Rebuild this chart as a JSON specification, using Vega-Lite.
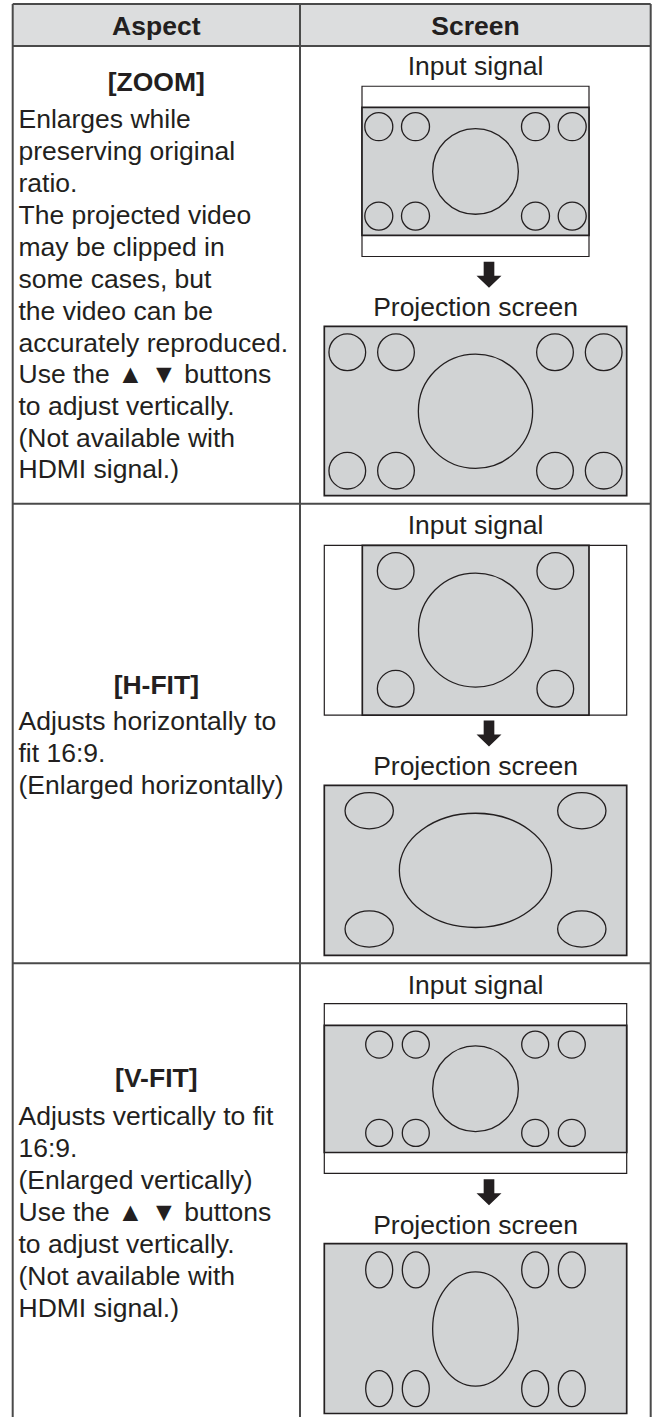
{
  "$schema": "https://vega.github.io/schema/vega-lite/v6.json",
  "width": 657,
  "height": 1418,
  "autosize": {"type": "fit", "contains": "padding"},
  "padding": 0,
  "background": "white",
  "config": {"view": {"stroke": null}},
  "datasets": {
    "lines": [
      {"x": 12.7, "y": 4, "x2": 650.7, "y2": 4},
      {"x": 12.7, "y": 46, "x2": 650.7, "y2": 46},
      {"x": 12.7, "y": 504, "x2": 650.7, "y2": 504},
      {"x": 12.7, "y": 964, "x2": 650.7, "y2": 964},
      {"x": 12.7, "y": 4, "x2": 12.7, "y2": 1418},
      {"x": 300, "y": 4, "x2": 300, "y2": 1418},
      {"x": 650.7, "y": 4, "x2": 650.7, "y2": 1418}
    ],
    "boxes": [
      {"kind": "header", "x": 12.7, "x2": 650.7, "y": 4, "y2": 46},
      {"kind": "frame", "x": 362, "x2": 589, "y": 86.3, "y2": 256.7},
      {"kind": "content", "x": 362, "x2": 589, "y": 107.5, "y2": 235.5},
      {"kind": "content", "x": 324.3, "x2": 626.7, "y": 326.7, "y2": 496},
      {"kind": "frame", "x": 324.3, "x2": 626.7, "y": 545.7, "y2": 715.7},
      {"kind": "content", "x": 362.3, "x2": 589, "y": 545.7, "y2": 715.7},
      {"kind": "content", "x": 324.3, "x2": 626.7, "y": 786, "y2": 956},
      {"kind": "frame", "x": 324.3, "x2": 626.7, "y": 1004.3, "y2": 1174.3},
      {"kind": "content", "x": 324.3, "x2": 626.7, "y": 1026, "y2": 1153.3},
      {"kind": "content", "x": 324.3, "x2": 626.7, "y": 1244.5, "y2": 1414.5}
    ],
    "shapes": [
      {"form": "circle", "d": 28, "x": 378.8, "y": 126.8},
      {"form": "circle", "d": 28, "x": 415.5, "y": 126.8},
      {"form": "circle", "d": 28, "x": 535.5, "y": 126.8},
      {"form": "circle", "d": 28, "x": 572.2, "y": 126.8},
      {"form": "circle", "d": 28, "x": 378.8, "y": 216.2},
      {"form": "circle", "d": 28, "x": 415.5, "y": 216.2},
      {"form": "circle", "d": 28, "x": 535.5, "y": 216.2},
      {"form": "circle", "d": 28, "x": 572.2, "y": 216.2},
      {"form": "circle", "d": 85.7, "x": 475.5, "y": 171.5},
      {"form": "circle", "d": 36.7, "x": 347.3, "y": 352.5},
      {"form": "circle", "d": 36.7, "x": 396, "y": 352.5},
      {"form": "circle", "d": 36.7, "x": 555, "y": 352.5},
      {"form": "circle", "d": 36.7, "x": 603.7, "y": 352.5},
      {"form": "circle", "d": 36.7, "x": 347.3, "y": 471},
      {"form": "circle", "d": 36.7, "x": 396, "y": 471},
      {"form": "circle", "d": 36.7, "x": 555, "y": 471},
      {"form": "circle", "d": 36.7, "x": 603.7, "y": 471},
      {"form": "circle", "d": 114.3, "x": 475.5, "y": 411.5},
      {"form": "circle", "d": 36.7, "x": 395.7, "y": 571.3},
      {"form": "circle", "d": 36.7, "x": 555.3, "y": 571.3},
      {"form": "circle", "d": 36.7, "x": 395.7, "y": 689.3},
      {"form": "circle", "d": 36.7, "x": 555.3, "y": 689.3},
      {"form": "circle", "d": 114, "x": 475.5, "y": 630.5},
      {"form": "wide", "d": 48.3, "x": 369.2, "y": 811.3},
      {"form": "wide", "d": 48.3, "x": 581.8, "y": 811.3},
      {"form": "wide", "d": 48.3, "x": 369.2, "y": 929.7},
      {"form": "wide", "d": 48.3, "x": 581.8, "y": 929.7},
      {"form": "wide", "d": 152.3, "x": 475.5, "y": 871},
      {"form": "circle", "d": 27, "x": 379.2, "y": 1045.3},
      {"form": "circle", "d": 27, "x": 415.8, "y": 1045.3},
      {"form": "circle", "d": 27, "x": 535.2, "y": 1045.3},
      {"form": "circle", "d": 27, "x": 571.8, "y": 1045.3},
      {"form": "circle", "d": 27, "x": 379.2, "y": 1133.7},
      {"form": "circle", "d": 27, "x": 415.8, "y": 1133.7},
      {"form": "circle", "d": 27, "x": 535.2, "y": 1133.7},
      {"form": "circle", "d": 27, "x": 571.8, "y": 1133.7},
      {"form": "circle", "d": 85.7, "x": 475.5, "y": 1089.5},
      {"form": "tall", "d": 27, "x": 379.2, "y": 1270.7},
      {"form": "tall", "d": 27, "x": 415.8, "y": 1270.7},
      {"form": "tall", "d": 27, "x": 535.2, "y": 1270.7},
      {"form": "tall", "d": 27, "x": 571.8, "y": 1270.7},
      {"form": "tall", "d": 27, "x": 379.2, "y": 1389.7},
      {"form": "tall", "d": 27, "x": 415.8, "y": 1389.7},
      {"form": "tall", "d": 27, "x": 535.2, "y": 1389.7},
      {"form": "tall", "d": 27, "x": 571.8, "y": 1389.7},
      {"form": "tall", "d": 85.7, "x": 475.5, "y": 1330}
    ],
    "arrows": [
      {"x": 489, "y": 275},
      {"x": 489, "y": 734},
      {"x": 489, "y": 1193}
    ],
    "labels": [
      {"kind": "head", "t": "Aspect", "x": 156.3, "y": 35},
      {"kind": "head", "t": "Screen", "x": 475.5, "y": 35},
      {"kind": "title", "t": "[ZOOM]", "x": 156.3, "y": 91},
      {"kind": "title", "t": "[H-FIT]", "x": 156.3, "y": 694},
      {"kind": "title", "t": "[V-FIT]", "x": 156.3, "y": 1088},
      {"kind": "caption", "t": "Input signal", "x": 475.5, "y": 75},
      {"kind": "caption", "t": "Projection screen", "x": 475.5, "y": 316.7},
      {"kind": "caption", "t": "Input signal", "x": 475.5, "y": 534},
      {"kind": "caption", "t": "Projection screen", "x": 475.5, "y": 775.5},
      {"kind": "caption", "t": "Input signal", "x": 475.5, "y": 995},
      {"kind": "caption", "t": "Projection screen", "x": 475.5, "y": 1235},
      {"kind": "body", "t": "Enlarges while", "x": 18.5, "y": 128},
      {"kind": "body", "t": "preserving original", "x": 18.5, "y": 160},
      {"kind": "body", "t": "ratio.", "x": 18.5, "y": 192},
      {"kind": "body", "t": "The projected video", "x": 18.5, "y": 224},
      {"kind": "body", "t": "may be clipped in", "x": 18.5, "y": 256},
      {"kind": "body", "t": "some cases, but", "x": 18.5, "y": 288},
      {"kind": "body", "t": "the video can be", "x": 18.5, "y": 320},
      {"kind": "body", "t": "accurately reproduced.", "x": 18.5, "y": 352},
      {"kind": "body", "t": "Use the ▲ ▼ buttons", "x": 18.5, "y": 383.5},
      {"kind": "body", "t": "to adjust vertically.", "x": 18.5, "y": 415},
      {"kind": "body", "t": "(Not available with", "x": 18.5, "y": 447},
      {"kind": "body", "t": "HDMI signal.)", "x": 18.5, "y": 478.5},
      {"kind": "body", "t": "Adjusts horizontally to", "x": 18.5, "y": 731},
      {"kind": "body", "t": "fit 16:9.", "x": 18.5, "y": 763},
      {"kind": "body", "t": "(Enlarged horizontally)", "x": 18.5, "y": 795},
      {"kind": "body", "t": "Adjusts vertically to fit", "x": 18.5, "y": 1125.7},
      {"kind": "body", "t": "16:9.", "x": 18.5, "y": 1158},
      {"kind": "body", "t": "(Enlarged vertically)", "x": 18.5, "y": 1190},
      {"kind": "body", "t": "Use the ▲ ▼ buttons", "x": 18.5, "y": 1222},
      {"kind": "body", "t": "to adjust vertically.", "x": 18.5, "y": 1254},
      {"kind": "body", "t": "(Not available with", "x": 18.5, "y": 1286},
      {"kind": "body", "t": "HDMI signal.)", "x": 18.5, "y": 1318}
    ]
  },
  "layer": [
    {
      "data": {"name": "boxes"},
      "transform": [{"filter": "datum.kind === 'header'"}],
      "mark": {"type": "rect", "fill": "#dcddde", "strokeWidth": 0},
      "encoding": {
        "x": {"field": "x", "type": "quantitative", "scale": {"domain": [0, 657], "nice": false, "zero": false}, "axis": null},
        "x2": {"field": "x2"},
        "y": {"field": "y", "type": "quantitative", "scale": {"domain": [0, 1418], "nice": false, "zero": false, "reverse": true}, "axis": null},
        "y2": {"field": "y2"}
      }
    },
    {
      "data": {"name": "boxes"},
      "transform": [{"filter": "datum.kind === 'frame'"}],
      "mark": {"type": "rect", "fill": "#ffffff", "stroke": "#231f20", "strokeWidth": 1.2},
      "encoding": {
        "x": {"field": "x", "type": "quantitative"},
        "x2": {"field": "x2"},
        "y": {"field": "y", "type": "quantitative"},
        "y2": {"field": "y2"}
      }
    },
    {
      "data": {"name": "boxes"},
      "transform": [{"filter": "datum.kind === 'content'"}],
      "mark": {"type": "rect", "fill": "#d1d3d4", "stroke": "#231f20", "strokeWidth": 1.7},
      "encoding": {
        "x": {"field": "x", "type": "quantitative"},
        "x2": {"field": "x2"},
        "y": {"field": "y", "type": "quantitative"},
        "y2": {"field": "y2"}
      }
    },
    {
      "data": {"name": "lines"},
      "mark": {"type": "rule", "color": "#4a4a4a", "strokeWidth": 2},
      "encoding": {
        "x": {"field": "x", "type": "quantitative"},
        "x2": {"field": "x2"},
        "y": {"field": "y", "type": "quantitative"},
        "y2": {"field": "y2"}
      }
    },
    {
      "data": {"name": "shapes"},
      "mark": {"type": "point", "filled": false, "stroke": "#231f20", "strokeWidth": 1.3, "opacity": 1},
      "encoding": {
        "x": {"field": "x", "type": "quantitative"},
        "y": {"field": "y", "type": "quantitative"},
        "shape": {
          "field": "form",
          "type": "nominal",
          "legend": null,
          "scale": {
            "domain": ["circle", "wide", "tall"],
            "range": [
              "M1,0C1,0.5523,0.5523,1,0,1C-0.5523,1,-1,0.5523,-1,0C-1,-0.5523,-0.5523,-1,0,-1C0.5523,-1,1,-0.5523,1,0Z",
              "M1,0C1,0.4142,0.5523,0.75,0,0.75C-0.5523,0.75,-1,0.4142,-1,0C-1,-0.4142,-0.5523,-0.75,0,-0.75C0.5523,-0.75,1,-0.4142,1,0Z",
              "M1,0C1,0.7364,0.5523,1.3333,0,1.3333C-0.5523,1.3333,-1,0.7364,-1,0C-1,-0.7364,-0.5523,-1.3333,0,-1.3333C0.5523,-1.3333,1,-0.7364,1,0Z"
            ]
          }
        },
        "size": {
          "field": "d",
          "type": "quantitative",
          "legend": null,
          "scale": {"type": "pow", "exponent": 2, "domain": [0, 200], "range": [0, 40000], "zero": true, "nice": false}
        }
      }
    },
    {
      "data": {"name": "arrows"},
      "mark": {"type": "point", "filled": true, "color": "#231f20", "opacity": 1, "size": 676, "strokeWidth": 0,
        "shape": "M-0.41,-1L0.41,-1L0.41,0.08L0.96,0.08L0,1L-0.96,0.08L-0.41,0.08Z"},
      "encoding": {
        "x": {"field": "x", "type": "quantitative"},
        "y": {"field": "y", "type": "quantitative"}
      }
    },
    {
      "data": {"name": "labels"},
      "transform": [{"filter": "datum.kind === 'head' || datum.kind === 'title'"}],
      "mark": {"type": "text", "font": "Liberation Sans", "fontSize": 26.5, "fontWeight": "bold", "align": "center", "baseline": "alphabetic", "color": "#231f20"},
      "encoding": {
        "x": {"field": "x", "type": "quantitative"},
        "y": {"field": "y", "type": "quantitative"},
        "text": {"field": "t"}
      }
    },
    {
      "data": {"name": "labels"},
      "transform": [{"filter": "datum.kind === 'caption'"}],
      "mark": {"type": "text", "font": "Liberation Sans", "fontSize": 26.5, "align": "center", "baseline": "alphabetic", "color": "#231f20"},
      "encoding": {
        "x": {"field": "x", "type": "quantitative"},
        "y": {"field": "y", "type": "quantitative"},
        "text": {"field": "t"}
      }
    },
    {
      "data": {"name": "labels"},
      "transform": [{"filter": "datum.kind === 'body'"}],
      "mark": {"type": "text", "font": "Liberation Sans", "fontSize": 26.5, "align": "left", "baseline": "alphabetic", "color": "#231f20"},
      "encoding": {
        "x": {"field": "x", "type": "quantitative"},
        "y": {"field": "y", "type": "quantitative"},
        "text": {"field": "t"}
      }
    }
  ]
}
